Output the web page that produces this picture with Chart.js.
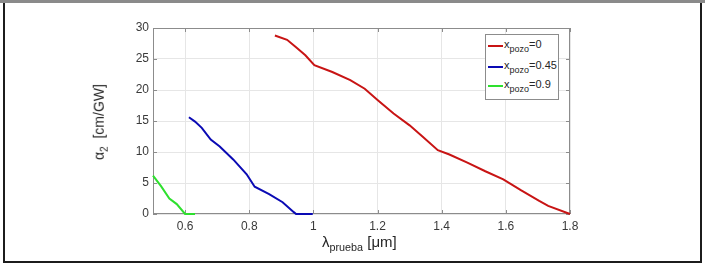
<!DOCTYPE html>
<html>
<head>
<meta charset="utf-8">
<script src="https://cdn.jsdelivr.net/npm/chart.js@4.4.1/dist/chart.umd.min.js"></script>
<style>
  body { margin: 0; width: 705px; height: 268px; background: #fff; position: relative; overflow: hidden; font-family: 'Liberation Sans', Arial, sans-serif; }
  #topband { position: absolute; left: 0; top: 0; width: 705px; height: 3px; background: #8a8a8a; }
  #frame { position: absolute; left: 3px; top: 3px; width: 695px; height: 258px; border-left: 2px solid #1c1c1c; border-right: 2px solid #1c1c1c; border-bottom: 2px solid #1c1c1c; }
  #wrap { position: absolute; left: 0; top: 0; width: 705px; height: 268px; }
  .lbl { position: absolute; color: #262626; white-space: nowrap; }
  .lbl sub { font-size: 72%; vertical-align: -0.35em; }
  #xlabel { left: 322px; top: 233px; font-size: 15px; }
  #ylabel { left: 100px; top: 122px; font-size: 14px; transform: translate(-50%, -50%) rotate(-90deg); }
  #legend { position: absolute; left: 485px; top: 34px; width: 72px; height: 64px; border: 1px solid #8c8c8c; background: #fff; }
  .item { position: absolute; left: 2px; height: 16px; font-size: 11px; color: #262626; }
  .item i { position: absolute; left: 0; top: 7px; width: 15px; height: 2px; }
  .item span { position: absolute; left: 16px; top: 0; white-space: nowrap; }
  .item sub { font-size: 9px; vertical-align: -0.45em; }
</style>
</head>
<body>
<div id="topband"></div>
<div id="frame"></div>
<div id="wrap"><canvas id="chart" width="705" height="268"></canvas></div>
<div id="ylabel" class="lbl">α<sub>2</sub>&nbsp; [cm/GW]</div>
<div id="xlabel" class="lbl">λ<sub>prueba</sub> [μm]</div>
<div id="legend">
  <div class="item" style="top:3px"><i style="background:#c81414"></i><span>x<sub>pozo</sub>=0</span></div>
  <div class="item" style="top:24px"><i style="background:#0a0ab4"></i><span>x<sub>pozo</sub>=0.45</span></div>
  <div class="item" style="top:43px"><i style="background:#2ee02e"></i><span>x<sub>pozo</sub>=0.9</span></div>
</div>
<script>
// x_pozo = 0
const redX = [0.880, 0.918, 0.946, 0.975, 1.003, 1.059, 1.115, 1.160, 1.200, 1.250, 1.300, 1.340, 1.388, 1.424, 1.480, 1.536, 1.592, 1.648, 1.704, 1.732, 1.800];
const redY = [28.8, 28.1, 26.9, 25.6, 24.0, 22.9, 21.6, 20.2, 18.4, 16.2, 14.3, 12.5, 10.3, 9.6, 8.3, 6.9, 5.6, 3.8, 2.1, 1.3, 0];
// x_pozo = 0.45
const blueX = [0.612, 0.631, 0.652, 0.680, 0.708, 0.750, 0.792, 0.817, 0.862, 0.904, 0.939, 0.946, 0.998];
const blueY = [15.6, 14.9, 13.9, 12.0, 10.9, 8.8, 6.4, 4.4, 3.2, 1.9, 0.3, 0, 0];
// x_pozo = 0.9
const greenX = [0.500, 0.525, 0.551, 0.574, 0.600, 0.631];
const greenY = [6.2, 4.5, 2.5, 1.6, 0, 0];

const xTicks = [0.6, 0.8, 1, 1.2, 1.4, 1.6, 1.8];
const yTicks = [0, 5, 10, 15, 20, 25, 30];

function pts(xs, ys) {
  return xs.map((x, i) => ({ x: x, y: ys[i] }));
}

// axes box with inward ticks, like matlab
const boxPlugin = {
  id: 'box',
  beforeDatasetsDraw(chart) {
    const ctx = chart.ctx, a = chart.chartArea;
    const sx = chart.scales.x, sy = chart.scales.y;
    ctx.save();
    ctx.strokeStyle = '#8c8c8c';
    ctx.lineWidth = 1;
    ctx.strokeRect(a.left + 0.5, a.top + 0.5, a.right - a.left - 1, a.bottom - a.top - 1);
    ctx.beginPath();
    xTicks.forEach(v => {
      const px = Math.round(sx.getPixelForValue(v)) + 0.5;
      ctx.moveTo(px, a.bottom); ctx.lineTo(px, a.bottom - 4);
      ctx.moveTo(px, a.top); ctx.lineTo(px, a.top + 4);
    });
    yTicks.forEach(v => {
      const py = Math.round(sy.getPixelForValue(v)) + 0.5;
      ctx.moveTo(a.left, py); ctx.lineTo(a.left + 4, py);
      ctx.moveTo(a.right, py); ctx.lineTo(a.right - 4, py);
    });
    ctx.stroke();
    ctx.restore();
  }
};

new Chart(document.getElementById('chart').getContext('2d'), {
  type: 'line',
  data: {
    datasets: [
      { label: 'x_pozo=0', data: pts(redX, redY), borderColor: '#c81414', clip: 3 },
      { label: 'x_pozo=0.45', data: pts(blueX, blueY), borderColor: '#0a0ab4', clip: 3 },
      { label: 'x_pozo=0.9', data: pts(greenX, greenY), borderColor: '#2ee02e', clip: 3 }
    ]
  },
  options: {
    responsive: false,
    animation: false,
    elements: {
      point: { radius: 0 },
      line: { borderWidth: 2, tension: 0, fill: false }
    },
    layout: { padding: { left: 123, top: 28, right: 135, bottom: 34 } },
    plugins: { legend: { display: false }, tooltip: { enabled: false } },
    scales: {
      x: {
        type: 'linear',
        min: 0.5,
        max: 1.8,
        afterBuildTicks: s => { s.ticks = xTicks.map(v => ({ value: v })); },
        afterFit: s => { s.height = 20; },
        ticks: { color: '#3a3a3a', font: { family: 'Liberation Sans', size: 12 }, padding: 5, maxRotation: 0, callback: v => String(v) },
        grid: { color: '#e6e6e6', drawTicks: false },
        border: { display: false }
      },
      y: {
        min: 0,
        max: 30,
        afterBuildTicks: s => { s.ticks = yTicks.map(v => ({ value: v })); },
        afterFit: s => { s.width = 30; },
        ticks: { color: '#3a3a3a', font: { family: 'Liberation Sans', size: 12 }, padding: 4 },
        grid: { color: '#e6e6e6', drawTicks: false },
        border: { display: false }
      }
    }
  },
  plugins: [boxPlugin]
});
</script>
</body>
</html>
